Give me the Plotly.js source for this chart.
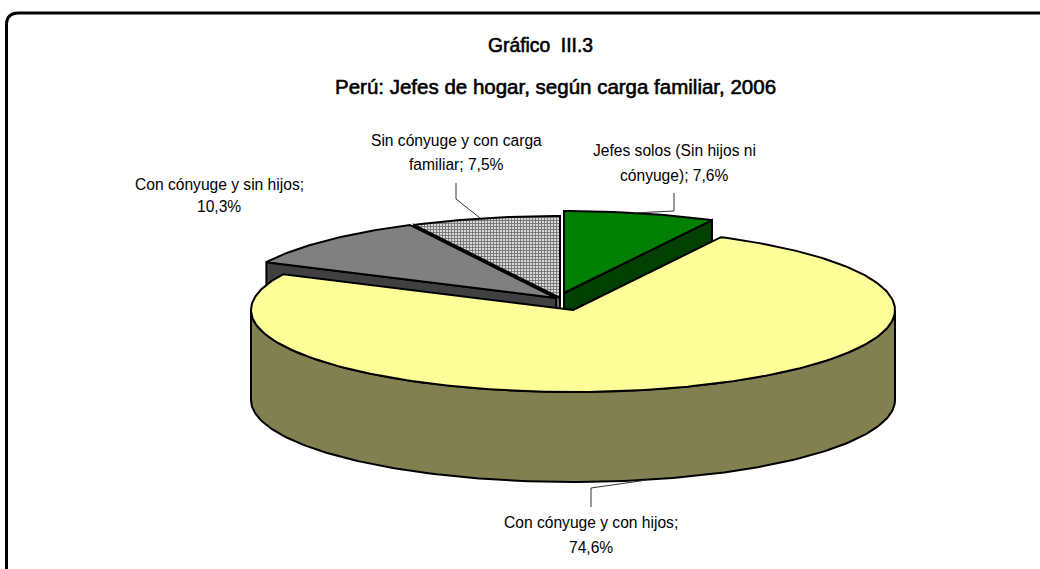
<!DOCTYPE html>
<html><head><meta charset="utf-8">
<script src="https://cdn.plot.ly/plotly-3.0.1.min.js"></script>
<style>html,body{margin:0;padding:0;background:#fff;overflow:hidden}
g.annotation[data-index="8"] text,g.annotation[data-index="9"] text{stroke:#000;stroke-width:.6px}</style>
</head><body><div id="chart" style="width:1040px;height:569px"></div>
<script>
const categories = ["Jefes solos (Sin hijos ni cónyuge)", "Con cónyuge y con hijos", "Con cónyuge y sin hijos", "Sin cónyuge y con carga familiar"];
const shares = [7.6, 74.6, 10.3, 7.5];
const labelLines = [
  ["Jefes solos (Sin hijos ni", "cónyuge); 7,6%"],
  ["Con cónyuge y con hijos;", "74,6%"],
  ["Con cónyuge y sin hijos;", "10,3%"],
  ["Sin cónyuge y con carga", "familiar; 7,5%"]
];
const titleLines = ["Gráfico  III.3", "Perú: Jefes de hogar, según carga familiar, 2006"];

// styling / layout only
const topColors = ["#008000", "#FFFF99", "#808080", "#ffffff"];
const cutColors = ["#004000", "#808050", "#404040", "#666666"];
const apex = [[564,293],[573,310],[556,298],[560,298]];
const labelPos = [[674,150,25],[591,522,25],[219,184,22],[456,140,24]];
const leaders = [
  {x:[674,674,633], y:[193,211,213]},
  {x:[591,591,647], y:[507,488,480]},
  {x:[456,456,480], y:[183,199,218]}
];
const RX = 322, RY = 82, DEPTH = 90;

const px = (c,a)=>c[0]+RX*Math.sin(a*Math.PI/180);
const py = (c,a)=>c[1]-RY*Math.cos(a*Math.PI/180);
function arc(c,a0,a1,dy){
  const n=Math.max(2,Math.ceil(Math.abs(a1-a0))), xs=[], ys=[];
  for(let i=0;i<=n;i++){const a=a0+(a1-a0)*i/n; xs.push(px(c,a)); ys.push(py(c,a)+(dy||0));}
  return {x:xs,y:ys};
}
const base={type:'scatter',mode:'lines',hoverinfo:'skip',showlegend:false,fill:'toself'};
const edge={color:'#000',width:2};

let start=0; const spans=shares.map(v=>{const s=[start,start+v*3.6]; start+=v*3.6; return s;});
const traces=[];
function cutFace(c,a,color){
  const x0=px(c,a), y0=py(c,a);
  traces.push({...base,x:[c[0],x0,x0,c[0],c[0]],y:[c[1],y0,y0+DEPTH,c[1]+DEPTH,c[1]],fillcolor:color,line:edge});
}
cutFace(apex[0],spans[0][1],cutColors[0]);
cutFace(apex[3],spans[3][0],cutColors[3]);
cutFace(apex[2],spans[2][0],cutColors[2]);
[0,3,2].forEach(i=>{
  const a=arc(apex[i],spans[i][0],spans[i][1]);
  const t={...base,x:[apex[i][0],...a.x,apex[i][0]],y:[apex[i][1],...a.y,apex[i][1]],line:edge};
  if(i===3){ t.fillcolor='#a8a8a8'; t.fillpattern={shape:'+',size:3,solidity:0.5,fgcolor:'#707070',bgcolor:'#d8d8d8',fillmode:'replace'}; }
  else t.fillcolor=topColors[i];
  traces.push(t);
});
const rimTop=arc(apex[1],90,270), rimBot=arc(apex[1],270,90,DEPTH);
traces.push({...base,x:[...rimTop.x,...rimBot.x,rimTop.x[0]],y:[...rimTop.y,...rimBot.y,rimTop.y[0]],fillcolor:cutColors[1],line:edge});
const m=arc(apex[1],spans[1][0],spans[1][1]);
traces.push({...base,x:[apex[1][0],...m.x,apex[1][0]],y:[apex[1][1],...m.y,apex[1][1]],fillcolor:topColors[1],line:edge});
leaders.forEach(l=>traces.push({type:'scatter',mode:'lines',hoverinfo:'skip',showlegend:false,x:l.x,y:l.y,line:{color:'#333',width:1}}));

const ann=[];
function note(x,y,text,size,extra){
  ann.push({xref:'x',yref:'y',x,y,text,showarrow:false,xanchor:'center',yanchor:'middle',
    font:Object.assign({family:'"Liberation Sans",Arial,sans-serif',size,color:'#000'},extra||{})});
}
labelLines.forEach((ls,i)=>{const p=labelPos[i]; ls.forEach((t,j)=>note(p[0],p[1]+j*p[2],t,15.6));});
note(540,45.5,titleLines[0],19.3);
note(555,86,titleLines[1],20.5);

const layout={width:1040,height:569,margin:{l:0,r:0,t:0,b:0},paper_bgcolor:'#fff',plot_bgcolor:'#fff',showlegend:false,
  xaxis:{visible:false,range:[0,1040],fixedrange:true},
  yaxis:{visible:false,range:[569,0],fixedrange:true},
  annotations:ann,
  shapes:[{type:'path',xref:'x',yref:'y',layer:'above',path:'M 6.5,590 L 6.5,25 Q 6.5,13 18.5,13 L 1060,13',line:{color:'#000',width:3}}]
};
Plotly.newPlot('chart',traces,layout,{displayModeBar:false,staticPlot:true});
</script></body></html>
